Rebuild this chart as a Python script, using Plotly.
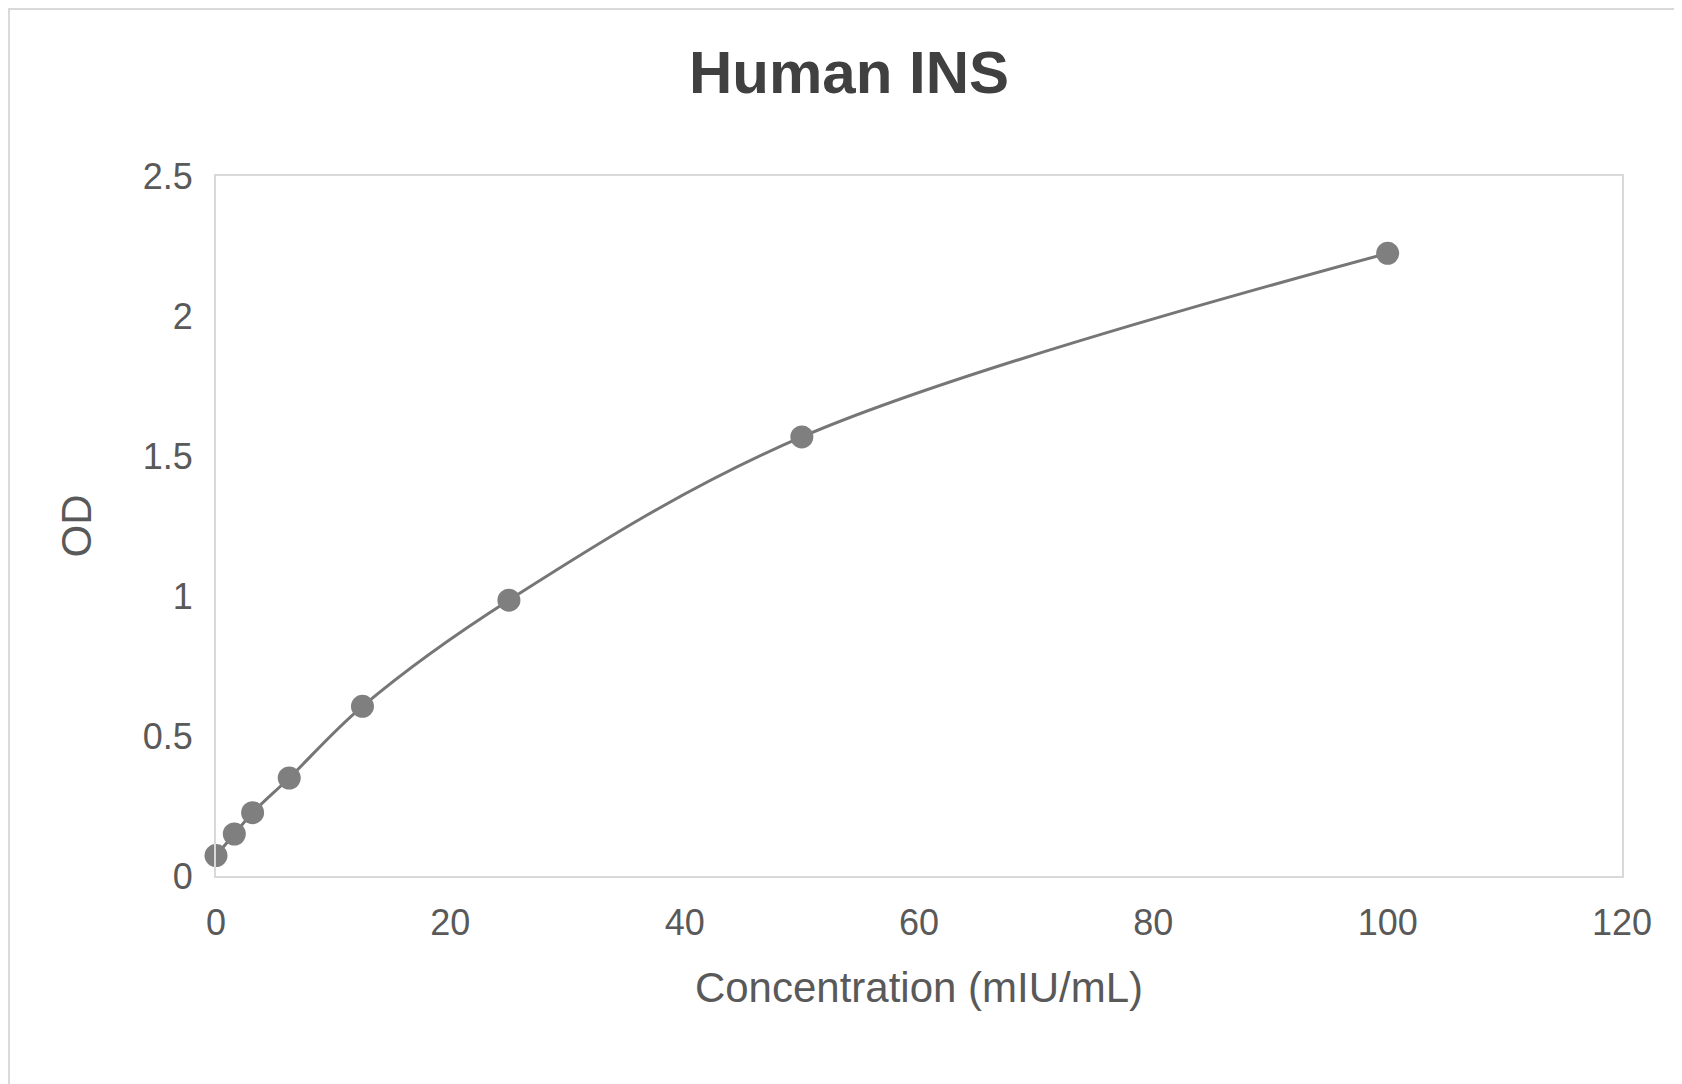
import plotly.graph_objects as go

conc = [0, 1.5625, 3.125, 6.25, 12.5, 25, 50, 100]
od = [0.073, 0.15, 0.226, 0.35, 0.606, 0.985, 1.568, 2.224]
x_ticks = [0, 20, 40, 60, 80, 100, 120]
y_ticks = [0, 0.5, 1, 1.5, 2, 2.5]

fig = go.Figure(go.Scatter(
    x=conc, y=od, mode="lines+markers", line=dict(color="#767676", width=3, shape="spline"),
    marker=dict(color="#7f7f7f", size=23), showlegend=False, cliponaxis=False))

ax = dict(showgrid=False, zeroline=False, showline=True, mirror=True, linecolor="#d9d9d9",
          linewidth=2, ticks="", tickfont=dict(size=36, color="#595959"))
fig.update_layout(
    width=1682, height=1084, paper_bgcolor="white", plot_bgcolor="white",
    margin=dict(l=208, r=68, t=168, b=216),
    font=dict(family="Liberation Sans, Arial, sans-serif", color="#595959"),
    title=dict(text="<b>Human INS</b>", x=0.5, xanchor="center", y=0.96,
               font=dict(size=60, color="#404040")),
    xaxis=dict(ax, range=[0, 120], tickvals=x_ticks, ticklabelstandoff=14,
               title=dict(text="Concentration (mIU/mL)", font=dict(size=42), standoff=30)),
    yaxis=dict(ax, range=[0, 2.5], tickvals=y_ticks, ticklabelstandoff=14,
               title=dict(text="OD", font=dict(size=42), standoff=38)),
    shapes=[dict(type="rect", xref="paper", yref="paper", x0=-0.1472, x1=1.047,
                 y0=-0.3057, y1=1.2386, line=dict(color="#d9d9d9", width=2))],
)
fig.write_html("out.html")
